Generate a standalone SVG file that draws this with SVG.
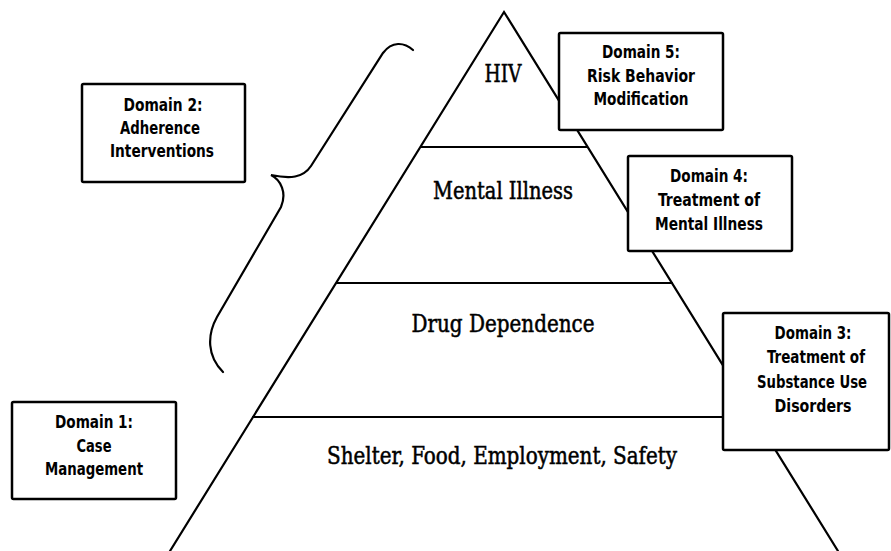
<svg xmlns="http://www.w3.org/2000/svg" width="891" height="551" viewBox="0 0 891 551">
  <style>
    .edge { fill: none; stroke: #000; stroke-width: 2.2; stroke-linecap: round; }
    .box rect { fill: #fff; stroke: #000; stroke-width: 2.5; }
    .lvl { font-family: "DejaVu Serif Condensed", "DejaVu Serif", "Liberation Serif", serif; font-size: 24px; fill: #000; stroke: #000; stroke-width: 0.5; text-anchor: middle; }
    .dom { font-family: "DejaVu Sans Condensed", "DejaVu Sans", "Liberation Sans", sans-serif; font-size: 17px; font-weight: bold; fill: #000; text-anchor: middle; }
  </style>
  <rect width="891" height="551" fill="#fff"/>

  <!-- pyramid outline and level dividers -->
  <g id="connectors">
    <path class="edge" d="M 170,551 L 504,12 L 838,551"/>
    <line class="edge" x1="421" y1="147" x2="587" y2="147"/>
    <line class="edge" x1="337" y1="283" x2="672" y2="283"/>
    <line class="edge" x1="253" y1="417" x2="723" y2="417"/>
    <!-- brace grouping the upper levels -->
    <path id="brace" class="edge" d="M 413,50 C 404,42 392,41 383,53 L 311,166 C 303,178 290,179 271,175 C 281,180 287,193 281,207 L 217,317 C 207,335 207,356 223,372"/>
  </g>

  <!-- pyramid levels -->
  <g id="level-hiv"><text class="lvl" x="503" y="82" textLength="37" lengthAdjust="spacingAndGlyphs">HIV</text></g>
  <g id="level-mental"><text class="lvl" x="503" y="199" textLength="140" lengthAdjust="spacingAndGlyphs">Mental Illness</text></g>
  <g id="level-drug"><text class="lvl" x="503" y="332" textLength="183" lengthAdjust="spacingAndGlyphs">Drug Dependence</text></g>
  <g id="level-basic"><text class="lvl" x="502" y="464" textLength="350" lengthAdjust="spacingAndGlyphs">Shelter, Food, Employment, Safety</text></g>

  <!-- domain boxes -->
  <g id="domain5" class="box">
    <rect x="559" y="33" width="164" height="97" rx="1.5"/>
    <text class="dom" x="641" y="58" textLength="78" lengthAdjust="spacingAndGlyphs">Domain 5:</text>
    <text class="dom" x="641" y="82" textLength="108" lengthAdjust="spacingAndGlyphs">Risk Behavior</text>
    <text class="dom" x="641" y="105" textLength="95" lengthAdjust="spacingAndGlyphs">Modification</text>
  </g>
  <g id="domain4" class="box">
    <rect x="628" y="156" width="164" height="95" rx="1.5"/>
    <text class="dom" x="709" y="182" textLength="78" lengthAdjust="spacingAndGlyphs">Domain 4:</text>
    <text class="dom" x="709" y="206" textLength="102" lengthAdjust="spacingAndGlyphs">Treatment of</text>
    <text class="dom" x="709" y="230" textLength="108" lengthAdjust="spacingAndGlyphs">Mental Illness</text>
  </g>
  <g id="domain3" class="box">
    <rect x="723" y="313" width="166" height="137" rx="1.5"/>
    <text class="dom" x="813" y="339" textLength="77" lengthAdjust="spacingAndGlyphs">Domain 3:</text>
    <text class="dom" x="816" y="363" textLength="98" lengthAdjust="spacingAndGlyphs">Treatment of</text>
    <text class="dom" x="812" y="388" textLength="110" lengthAdjust="spacingAndGlyphs">Substance Use</text>
    <text class="dom" x="813" y="412" textLength="77" lengthAdjust="spacingAndGlyphs">Disorders</text>
  </g>
  <g id="domain2" class="box">
    <rect x="82" y="84" width="163" height="98" rx="1.5"/>
    <text class="dom" x="163" y="111" textLength="79" lengthAdjust="spacingAndGlyphs">Domain 2:</text>
    <text class="dom" x="160" y="134" textLength="80" lengthAdjust="spacingAndGlyphs">Adherence</text>
    <text class="dom" x="162" y="157" textLength="104" lengthAdjust="spacingAndGlyphs">Interventions</text>
  </g>
  <g id="domain1" class="box">
    <rect x="12" y="402" width="164" height="97" rx="1.5"/>
    <text class="dom" x="94" y="428" textLength="78" lengthAdjust="spacingAndGlyphs">Domain 1:</text>
    <text class="dom" x="94" y="452" textLength="35" lengthAdjust="spacingAndGlyphs">Case</text>
    <text class="dom" x="94" y="475" textLength="98" lengthAdjust="spacingAndGlyphs">Management</text>
  </g>
</svg>
